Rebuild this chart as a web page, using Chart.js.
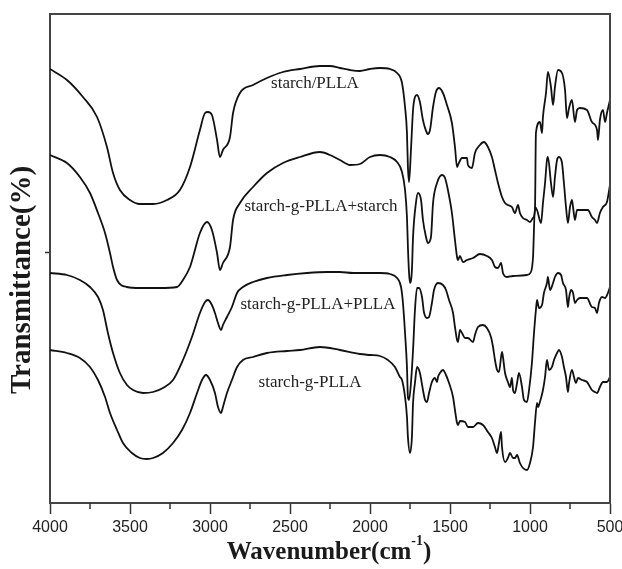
<!DOCTYPE html>
<html><head><meta charset="utf-8">
<script src="https://cdn.jsdelivr.net/npm/chart.js@4/dist/chart.umd.min.js"></script>
<style>html,body{margin:0;padding:0;background:#fff}</style>
</head><body>
<canvas id="c" width="622" height="569"></canvas>
<script>
// ---- data (wavenumber in cm-1, transmittance in arbitrary offset units) ----
const seriesNames = ["starch/PLLA", "starch-g-PLLA+starch", "starch-g-PLLA+PLLA", "starch-g-PLLA"];

const wnStarchPLLA = [4000,3894,3794,3706,3644,3606,3563,3500,3438,3356,3269,3188,3125,3063,3031,3013,2988,2956,2938,2919,2875,2856,2813,2731,2644,2544,2438,2313,2250,2188,2125,2063,2000,1938,1875,1831,1800,1781,1769,1763,1756,1744,1731,1719,1706,1688,1669,1644,1638,1625,1606,1588,1569,1544,1519,1488,1469,1456,1450,1425,1394,1388,1363,1344,1313,1288,1263,1238,1219,1200,1175,1156,1138,1113,1094,1075,1063,1044,1019,1000,981,969,963,938,925,919,900,888,869,856,844,825,800,781,769,756,738,719,706,688,644,613,581,575,563,544,531,519,500];
const tStarchPLLA = [434,423,406,386,356,330,313,303,299,299,303,313,336,373,390,391,388,363,346,353,366,390,410,418,425,431,434,437,437,435,433,432,434,435,434,430,420,396,370,336,321,353,393,406,408,401,383,370,369,373,396,411,415,410,398,380,356,336,338,345,345,338,335,350,358,361,356,346,333,320,306,300,298,296,290,298,290,285,283,281,285,293,370,381,370,386,410,431,416,398,416,433,430,413,385,395,403,381,393,395,393,381,373,363,383,393,381,390,403];

const wnGraftStarch = [4000,3894,3813,3750,3700,3656,3625,3606,3581,3519,3438,3313,3206,3169,3125,3106,3063,3019,2988,2956,2938,2919,2875,2856,2813,2731,2644,2544,2438,2313,2250,2188,2125,2063,2000,1938,1875,1831,1800,1781,1769,1763,1756,1750,1738,1731,1713,1700,1681,1669,1650,1638,1619,1606,1581,1550,1531,1513,1488,1469,1456,1450,1438,1419,1394,1356,1313,1269,1238,1219,1200,1181,1169,1144,1106,1019,994,981,969,956,931,919,906,894,888,869,856,844,831,819,800,788,775,763,750,738,731,719,706,688,638,613,594,581,563,544,519,500];
const tGraftStarch = [348,340,326,310,290,270,250,236,223,216,215,215,216,223,236,246,270,281,273,250,233,240,256,283,300,316,330,340,346,351,348,343,338,339,346,348,346,341,331,313,286,256,230,220,233,266,300,310,303,283,266,260,266,300,320,328,325,313,290,263,246,243,247,241,243,245,249,247,243,236,235,240,230,226,227,228,231,246,296,293,280,300,320,343,346,320,306,326,343,346,340,320,296,280,296,303,296,283,293,293,293,286,283,280,290,296,301,318];

const wnGraftPLLA = [4000,3894,3813,3750,3700,3669,3638,3606,3563,3519,3481,3419,3356,3294,3231,3169,3113,3063,3031,3013,2988,2969,2950,2931,2919,2894,2863,2831,2794,2731,2644,2519,2394,2269,2188,2106,2000,1938,1875,1831,1806,1794,1781,1769,1763,1756,1744,1731,1719,1706,1694,1675,1663,1644,1631,1613,1600,1575,1544,1525,1506,1481,1469,1456,1450,1438,1425,1406,1388,1356,1344,1325,1294,1269,1244,1231,1219,1206,1194,1175,1169,1156,1138,1125,1113,1106,1094,1081,1069,1050,1038,1019,1006,988,975,963,956,944,925,913,894,888,875,856,844,825,806,794,775,763,756,744,731,719,706,688,644,613,594,581,569,550,531,513,500];
const tGraftPLLA = [230,228,223,216,206,193,170,150,130,118,113,110,111,115,123,143,166,190,201,203,198,190,180,173,178,186,196,210,216,221,225,228,230,231,231,230,230,230,229,225,216,200,170,136,106,103,120,153,193,215,215,206,191,185,186,200,213,220,218,213,203,190,176,163,161,173,170,165,165,161,168,176,178,175,166,156,143,133,131,151,146,130,121,116,125,113,110,120,130,116,103,101,113,140,170,193,203,195,198,210,220,226,213,220,226,230,228,220,213,196,205,213,210,200,203,205,205,196,195,190,200,206,205,210,216];

const wnGraft = [4000,3894,3813,3750,3700,3656,3625,3581,3544,3488,3438,3394,3356,3294,3231,3175,3125,3081,3050,3025,3000,2969,2950,2931,2919,2894,2863,2831,2794,2731,2644,2519,2438,2313,2188,2063,2000,1938,1888,1844,1813,1800,1781,1769,1763,1750,1738,1731,1719,1706,1688,1669,1656,1644,1631,1613,1594,1581,1575,1563,1544,1525,1506,1481,1469,1456,1450,1438,1406,1388,1356,1325,1294,1263,1238,1219,1206,1194,1181,1175,1156,1138,1125,1106,1094,1081,1063,1044,1019,1000,981,969,956,950,938,919,906,894,881,863,850,831,819,800,788,775,763,756,738,725,713,700,675,644,613,594,581,563,544,519,500];
const tGraft = [153,150,145,136,123,106,90,73,60,50,45,44,45,50,60,73,90,110,123,128,123,110,96,90,96,110,123,136,143,146,150,152,153,156,153,149,148,147,143,136,126,123,106,86,66,50,66,100,120,136,130,113,103,101,110,121,125,121,126,130,133,128,120,106,93,80,78,82,81,76,76,80,78,71,65,56,50,60,71,56,41,45,50,45,45,48,40,35,33,40,56,80,100,96,101,113,126,143,133,136,143,150,153,146,136,126,111,120,133,126,120,125,123,121,113,111,110,116,121,121,126];

const xTickValues = [4000,3750,3500,3250,3000,2750,2500,2250,2000,1750,1500,1250,1000,750,500];
const yTickValues = [251];

// ---- helpers ----
const toPoints = (xs, ys) => xs.map((x, i) => ({x: x, y: ys[i]}));
const allX = [wnStarchPLLA, wnGraftStarch, wnGraftPLLA, wnGraft];
const allY = [tStarchPLLA, tGraftStarch, tGraftPLLA, tGraft];

const datasets = seriesNames.map((name, i) => ({
  label: name,
  data: toPoints(allX[i], allY[i]),
  borderColor: '#111',
  borderWidth: 1.8,
  pointRadius: 0,
  fill: false,
  cubicInterpolationMode: 'monotone'
}));

// label anchors (wavenumber, transmittance) for the in-plot captions
const captionPos = [[2344, 419], [2306, 296], [2325, 198], [2375, 120]];

const decor = {
  id: 'decor',
  afterDraw(chart) {
    const {ctx, chartArea: a, scales: {x, y}} = chart;
    ctx.save();
    // frame top/right
    ctx.strokeStyle = '#444';
    ctx.lineWidth = 2;
    ctx.beginPath();
    ctx.moveTo(a.left, a.top); ctx.lineTo(a.right, a.top); ctx.lineTo(a.right, a.bottom);
    ctx.stroke();
    // minor x ticks
    ctx.lineWidth = 1.5;
    ctx.strokeStyle = '#333';
    xTickValues.filter(v => v % 500 !== 0).forEach(v => {
      const px = x.getPixelForValue(v);
      ctx.beginPath(); ctx.moveTo(px, a.bottom); ctx.lineTo(px, a.bottom + 6); ctx.stroke();
    });
    // captions
    ctx.fillStyle = '#222';
    ctx.font = '17px "Liberation Serif", "Times New Roman", serif';
    ctx.textAlign = 'center';
    ctx.textBaseline = 'middle';
    seriesNames.forEach((n, i) => {
      ctx.fillText(n, x.getPixelForValue(captionPos[i][0]), y.getPixelForValue(captionPos[i][1]));
    });
    // y title
    ctx.save();
    ctx.translate(23, 280);
    ctx.rotate(-Math.PI / 2);
    ctx.font = 'bold 29px "Liberation Serif", "Times New Roman", serif';
    ctx.fillStyle = '#1a1a1a';
    ctx.fillText('Transmittance(%)', 0, 0);
    ctx.restore();
    // x title with superscript
    ctx.font = 'bold 25px "Liberation Serif", "Times New Roman", serif';
    ctx.fillStyle = '#1a1a1a';
    const main = 'Wavenumber(cm';
    const sup = '-1';
    const close = ')';
    const w1 = ctx.measureText(main).width;
    ctx.font = 'bold 14px "Liberation Serif", serif';
    const w2 = ctx.measureText(sup).width;
    ctx.font = 'bold 25px "Liberation Serif", "Times New Roman", serif';
    const w3 = ctx.measureText(close).width;
    let sx = 329 - (w1 + w2 + w3) / 2;
    ctx.textAlign = 'left';
    ctx.textBaseline = 'alphabetic';
    const base = 559;
    ctx.fillText(main, sx, base);
    ctx.font = 'bold 14px "Liberation Serif", serif';
    ctx.fillText(sup, sx + w1, base - 14);
    ctx.font = 'bold 25px "Liberation Serif", "Times New Roman", serif';
    ctx.fillText(close, sx + w1 + w2, base);
    ctx.restore();
  }
};

new Chart(document.getElementById('c'), {
  type: 'line',
  data: {datasets: datasets},
  options: {
    responsive: false,
    animation: false,
    devicePixelRatio: 1,
    layout: {padding: {top: 14, right: 12, left: 0, bottom: 0}},
    plugins: {legend: {display: false}, tooltip: {enabled: false}},
    scales: {
      x: {
        type: 'linear',
        reverse: true,
        min: 500,
        max: 4000,
        afterBuildTicks: s => { s.ticks = xTickValues.map(v => ({value: v})); },
        afterFit: s => { s.height = 66; s.paddingLeft = 0; s.paddingRight = 0; },
        ticks: {
          autoSkip: false,
          maxRotation: 0,
          padding: 4,
          color: '#222',
          font: {family: '"Liberation Sans", Arial, sans-serif', size: 16},
          callback: v => (v % 500 === 0 ? String(v) : '')
        },
        grid: {
          drawOnChartArea: false,
          tickLength: 11,
          tickWidth: 1.5,
          tickColor: c => (c.tick && c.tick.value % 500 === 0 ? '#333' : 'rgba(0,0,0,0)')
        },
        border: {color: '#444', width: 2}
      },
      y: {
        type: 'linear',
        min: 0,
        max: 489,
        afterBuildTicks: s => { s.ticks = yTickValues.map(v => ({value: v})); },
        afterFit: s => { s.width = 50; s.paddingTop = 0; s.paddingBottom = 0; },
        ticks: {callback: () => '', padding: 0},
        grid: {drawOnChartArea: false, tickLength: 5, tickWidth: 1.5, tickColor: '#333'},
        border: {color: '#444', width: 2}
      }
    }
  },
  plugins: [decor]
});
</script>
</body></html>
